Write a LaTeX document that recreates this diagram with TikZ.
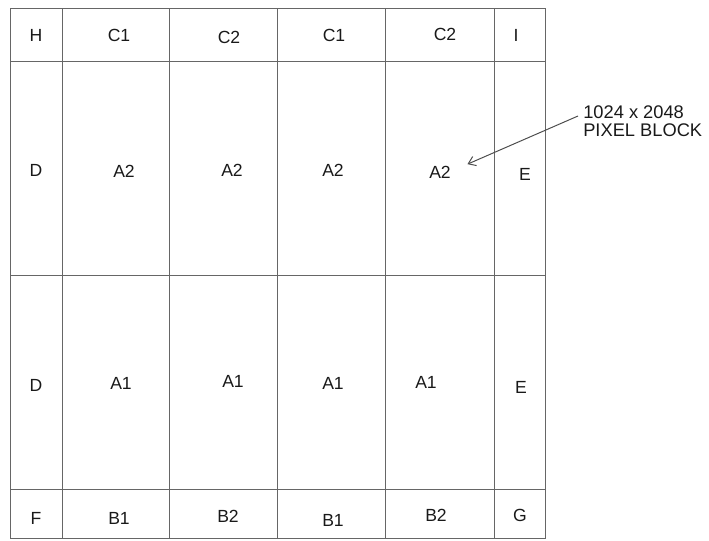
\documentclass[tikz,border=0pt]{standalone}
\usepackage{fontspec}
\setmainfont{Liberation Sans}
\usepackage{tikz}
\usetikzlibrary{arrows.meta}

\begin{document}
\begin{tikzpicture}[
  x=0.025cm, y=-0.025cm,
  grid/.style={draw=black!60, line width=0.7pt},
  lbl/.style={font=\fontsize{12.5}{14}\selectfont, text=black!90, inner sep=1pt},
  note/.style={font=\fontsize{13}{12.5}\selectfont, text=black!90,
               align=left, inner sep=0pt, anchor=west},
  arr/.style={-{Straight Barb[length=5pt,width=7pt]}, draw=black!70, line width=0.7pt},
]
\useasboundingbox (0,0) rectangle (709,540);

%% ---- frame and cell borders ----
\draw[grid] (10,8) rectangle (545,538);
\foreach \x in {62,169,277,385,494}
  \draw[grid] (\x,8) -- (\x,538);
\foreach \y in {61,275,489}
  \draw[grid] (10,\y) -- (545,\y);

%% ---- top row ----
\node[lbl] (h)   at (36,35)  {H};
\node[lbl] (c1a) at (119,35) {C1};
\node[lbl] (c2a) at (229,37) {C2};
\node[lbl] (c1b) at (334,35) {C1};
\node[lbl] (c2b) at (445,34) {C2};
\node[lbl] (i)   at (516,35) {I};

%% ---- upper blocks ----
\node[lbl] (d1)  at (36,170)  {D};
\node[lbl] (a2a) at (124,171) {A2};
\node[lbl] (a2b) at (232,170) {A2};
\node[lbl] (a2c) at (333,170) {A2};
\node[lbl] (a2d) at (440,172) {A2};
\node[lbl] (e1)  at (525,174) {E};

%% ---- lower blocks ----
\node[lbl] (d2)  at (36,385)  {D};
\node[lbl] (a1a) at (121,383) {A1};
\node[lbl] (a1b) at (233,381) {A1};
\node[lbl] (a1c) at (333,383) {A1};
\node[lbl] (a1d) at (426,382) {A1};
\node[lbl] (e2)  at (521,387) {E};

%% ---- bottom row ----
\node[lbl] (f)   at (36,518)  {F};
\node[lbl] (b1a) at (119,518) {B1};
\node[lbl] (b2a) at (228,516) {B2};
\node[lbl] (b1b) at (333,520) {B1};
\node[lbl] (b2b) at (436,515) {B2};
\node[lbl] (g)   at (520,515) {G};

%% block size callout
\node[note] (blk) at (583,121) {1024 x 2048\\PIXEL BLOCK};
\draw[arr] ([shift={(-5,-5)}]blk.west) -- ([shift={(15,0)}]a2d.north east);

\end{tikzpicture}
\end{document}
